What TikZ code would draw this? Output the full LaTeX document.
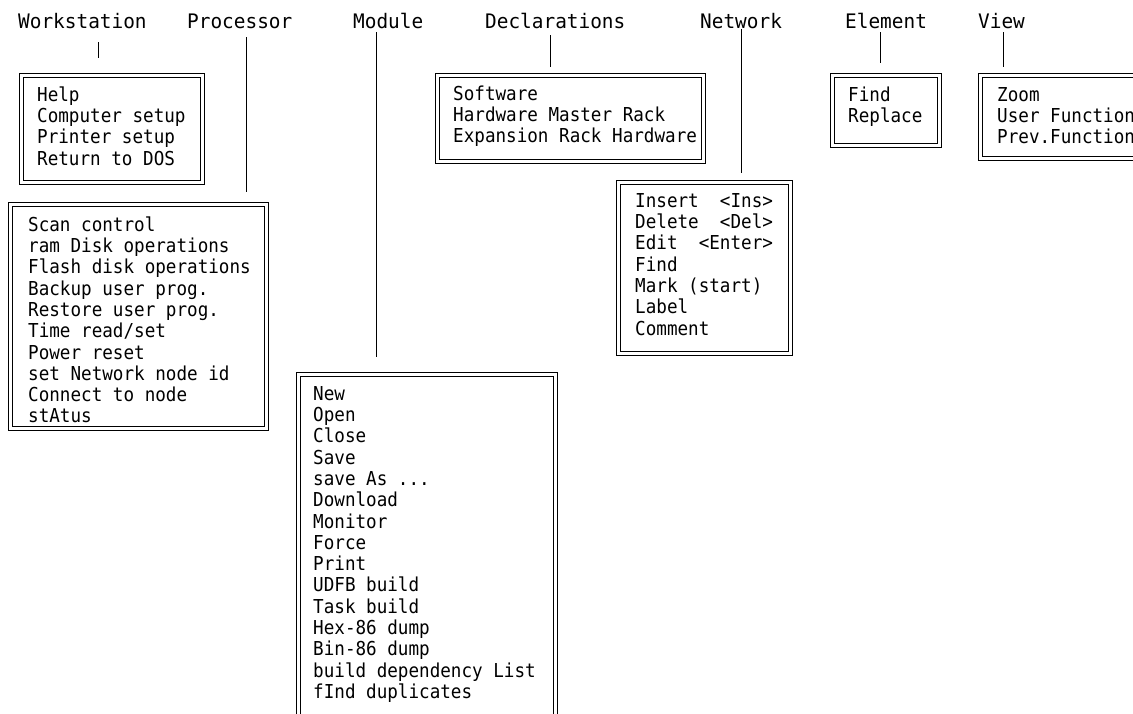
\documentclass[tikz,border=0pt]{standalone}
\usepackage{fontspec}
\usetikzlibrary{calc}
\newfontfamily\plotfont[FakeStretch=0.917]{DejaVu Sans Mono}
\newfontfamily\plotlabfont[FakeStretch=0.97]{DejaVu Sans Mono}
\newcommand{\fl}{\rule{0pt}{15.5pt}}
\begin{document}
\begin{tikzpicture}[x=1pt,y=-1pt,
  lab/.style={font=\fontsize{20}{24}\plotlabfont, inner sep=0pt, anchor=base west},
  menu/.style={font=\fontsize{19.2}{21.3}\plotfont, inner sep=0pt, anchor=north west, align=left},
  dbox/.style={draw, line width=0.8pt, inner sep=0pt, outer sep=0pt, anchor=north west},
  inbox/.style={line width=0.8pt},
  conn/.style={line width=0.9pt}]
\useasboundingbox (0,0) rectangle (1133,713);
\clip (0,0) rectangle (1133,713);

% column x positions of the connectors
\coordinate (wsx) at (98,0);
\coordinate (prx) at (246,0);
\coordinate (mdx) at (376,0);
\coordinate (dcx) at (550,0);
\coordinate (ntx) at (741,0);
\coordinate (elx) at (880,0);
\coordinate (vwx) at (1003,0);

% top labels
\node[lab] (wslab) at (18,28) {Workstation};
\node[lab] (prlab) at (187,28) {Processor};
\node[lab] (mdlab) at (353,28) {Module};
\node[lab] (dclab) at (485,28) {Declarations};
\node[lab] (ntlab) at (700,28) {Network};
\node[lab] (ellab) at (845,28) {Element};
\node[lab] (vwlab) at (978,28) {View};

% boxes (outer frame)
\node[dbox, minimum width=185pt, minimum height=111pt] (ws) at (19,73) {};
\node[dbox, minimum width=270pt, minimum height=90pt] (dc) at (435,73) {};
\node[dbox, minimum width=111pt, minimum height=74pt] (el) at (830,73) {};
\node[dbox, minimum width=184pt, minimum height=87pt] (vw) at (978,73) {};
\node[dbox, minimum width=260pt, minimum height=228pt] (pr) at (8,202) {};
\node[dbox, minimum width=176pt, minimum height=175pt] (nt) at (616,180) {};
\node[dbox, minimum width=261pt, minimum height=370pt] (md) at (296,372) {};
% inner frames
\foreach \b in {ws,dc,el,vw,pr,nt,md}
  \draw[inbox] ($(\b.north west)+(4,4)$) rectangle ($(\b.south east)+(-4,-4)$);

% menu texts
\node[menu] (wst) at ($(ws.north west)+(18,12.5)$) {\fl Help\\Computer setup\\Printer setup\\Return to DOS};
\node[menu] (dct) at ($(dc.north west)+(18,11.5)$) {\fl Software\\Hardware Master Rack\\Expansion Rack Hardware};
\node[menu] (elt) at ($(el.north west)+(18,12.5)$) {\fl Find\\Replace};
\node[menu] (vwt) at ($(vw.north west)+(19,12.5)$) {\fl Zoom\\User Function\\Prev.Function};
\node[menu] (prt) at ($(pr.north west)+(20,13.5)$) {\fl Scan control\\ram Disk operations\\Flash disk operations\\Backup user prog.\\Restore user prog.\\Time read/set\\Power reset\\set Network node id\\Connect to node\\stAtus};
\node[menu] (ntt) at ($(nt.north west)+(19,11.5)$) {\fl Insert~~<Ins>\\Delete~~<Del>\\Edit~~<Enter>\\Find\\Mark (start)\\Label\\Comment};
\node[menu] (mdt) at ($(md.north west)+(17,12.5)$) {\fl New\\Open\\Close\\Save\\save As ...\\Download\\Monitor\\Force\\Print\\UDFB build\\Task build\\Hex-86 dump\\Bin-86 dump\\build dependency List\\fInd duplicates};

% connectors
\draw[conn] ($(wslab.base -| wsx)+(0,14)$) -- ($(ws.north -| wsx)+(0,-15)$);
\draw[conn] ($(prlab.base -| prx)+(0,9)$) -- ($(pr.north -| prx)+(0,-10)$);
\draw[conn] ($(mdlab.base -| mdx)+(0,4)$) -- ($(md.north -| mdx)+(0,-15)$);
\draw[conn] ($(dclab.base -| dcx)+(0,7)$) -- ($(dc.north -| dcx)+(0,-6)$);
\draw[conn] ($(ntlab.base -| ntx)+(0,1)$) -- ($(nt.north -| ntx)+(0,-7)$);
\draw[conn] ($(ellab.base -| elx)+(0,4)$) -- ($(el.north -| elx)+(0,-10)$);
\draw[conn] ($(vwlab.base -| vwx)+(0,4)$) -- ($(vw.north -| vwx)+(0,-6)$);
\end{tikzpicture}
\end{document}
